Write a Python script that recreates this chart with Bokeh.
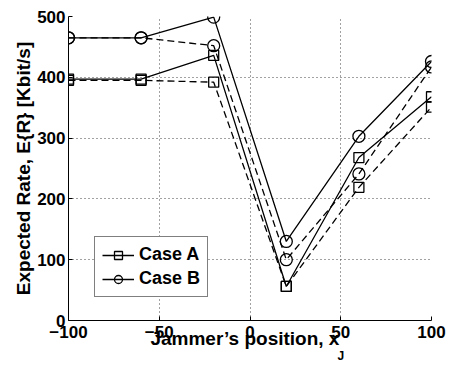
from bokeh.plotting import figure
from bokeh.models import FixedTicker, Legend, LegendItem, Range1d, LinearAxis
from bokeh.embed import file_html
from bokeh.resources import INLINE

# ---- data ----
x_pos = [-100, -60, -20, 20, 60, 100]
case_a_solid = [397, 397, 436, 56, 268, 368]
case_a_dashed = [395, 395, 392, 56, 219, 351]
case_b_solid = [465, 465, 499, 130, 303, 426]
case_b_dashed = [465, 465, 452, 100, 241, 417]

x_ticks = [-100, -50, 0, 50, 100]
x_tick_labels = ["\u2212100", "\u221250", "0", "50", "100"]
y_ticks = [0, 100, 200, 300, 400, 500]

y_label = "Expected Rate, E{R} [Kbit/s]"
x_label = "Jammer\u2019s position, x"
x_label_sub = "J"
legend_labels = ["Case A", "Case B"]

FONT = "Liberation Sans"

p = figure(width=449, height=365, output_backend="svg", toolbar_location=None,
           x_range=Range1d(-100, 100), y_range=Range1d(0, 500),
           min_border_left=68, min_border_right=18, min_border_top=16,
           min_border_bottom=45)
p.outline_line_color = None
p.background_fill_color = "white"
p.border_fill_color = "white"

for ax in (p.xaxis[0], p.yaxis[0]):
    ax.axis_line_color = "black"
    ax.axis_line_width = 1
    ax.major_tick_in = 4
    ax.major_tick_out = 0
    ax.minor_tick_line_color = None
    ax.major_tick_line_color = "black"
    ax.major_label_text_font = FONT
    ax.major_label_text_font_style = "bold"
    ax.major_label_text_font_size = "17px"
    ax.major_label_text_color = "black"

p.xaxis.ticker = FixedTicker(ticks=x_ticks)
p.xaxis.major_label_overrides = dict(zip(x_ticks, x_tick_labels))
p.xaxis.major_label_standoff = 5
p.yaxis.ticker = FixedTicker(ticks=y_ticks)
p.yaxis.major_label_standoff = 3

p.yaxis.axis_label = y_label
p.yaxis.axis_label_text_font = FONT
p.yaxis.axis_label_text_font_style = "bold"
p.yaxis.axis_label_text_font_size = "19px"
p.yaxis.axis_label_text_color = "black"
p.yaxis.axis_label_standoff = 0


def label_axis(pos, text, size, standoff):
    ax = LinearAxis(ticker=FixedTicker(ticks=[pos]),
                    major_label_overrides={pos: text},
                    axis_line_color=None, major_tick_line_color=None,
                    minor_tick_line_color=None, major_tick_in=0, major_tick_out=0,
                    major_label_standoff=standoff,
                    major_label_text_font=FONT, major_label_text_font_style="bold",
                    major_label_text_font_size=size, major_label_text_color="black")
    p.add_layout(ax, "below")
    return ax


# x-axis title and its subscript, placed as tick labels of blank axes
label_axis(-2.8, x_label, "19px", -13)
label_axis(50.1, x_label_sub, "12px", -3)

for g in (p.xgrid[0], p.ygrid[0]):
    g.grid_line_color = "#444444"
    g.grid_line_dash = "1 3"
    g.grid_line_width = 1

LW = 1.3
DASH = "7 4"

la_s = p.line(x_pos, case_a_solid, line_color="black", line_width=LW)
la_d = p.line(x_pos, case_a_dashed, line_color="black", line_width=LW, line_dash=DASH)
lb_s = p.line(x_pos, case_b_solid, line_color="black", line_width=LW)
lb_d = p.line(x_pos, case_b_dashed, line_color="black", line_width=LW, line_dash=DASH)

ma_s = p.scatter(x_pos, case_a_solid, marker="square", size=10, line_color="black",
                 line_width=LW, fill_color=None)
ma_d = p.scatter(x_pos, case_a_dashed, marker="square", size=10, line_color="black",
                 line_width=LW, fill_color=None)
mb_s = p.scatter(x_pos, case_b_solid, marker="circle", size=12, line_color="black",
                 line_width=LW, fill_color=None)
mb_d = p.scatter(x_pos, case_b_dashed, marker="circle", size=12, line_color="black",
                 line_width=LW, fill_color=None)

legend = Legend(items=[LegendItem(label=legend_labels[0], renderers=[la_s, ma_s]),
                       LegendItem(label=legend_labels[1], renderers=[lb_s, mb_s])],
                location=(26, 23), margin=0, padding=7, spacing=3,
                glyph_width=32, glyph_height=20, label_standoff=5,
                label_height=20,
                label_text_font=FONT, label_text_font_style="bold",
                label_text_font_size="18px", label_text_color="black",
                border_line_color="black", border_line_width=1.3,
                background_fill_color="white", background_fill_alpha=1.0)
p.add_layout(legend, "center")

open("out.html", "w").write(file_html(p, INLINE))
